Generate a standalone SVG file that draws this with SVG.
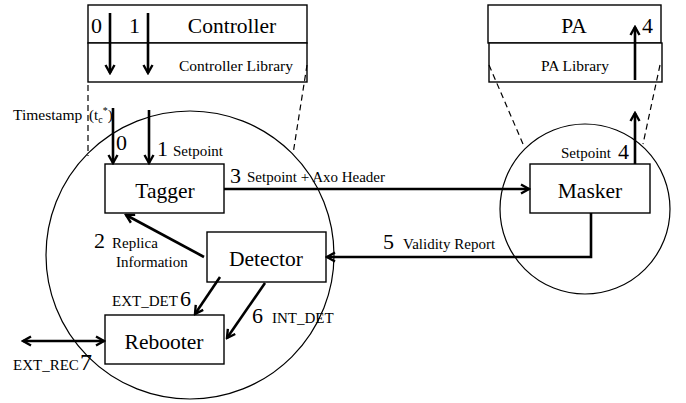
<svg xmlns="http://www.w3.org/2000/svg" width="686" height="403" viewBox="0 0 686 403" font-family="'Liberation Serif', serif">
<defs>
<marker id="ah" viewBox="0 0 12 12" markerWidth="12" markerHeight="12" refX="10" refY="6" orient="auto-start-reverse" markerUnits="userSpaceOnUse">
<path d="M2,1.5 L10,6 L2,10.5" fill="none" stroke="#000" stroke-width="2.4"/>
</marker>
</defs>
<style>
text{font-family:'Liberation Serif', serif;fill:#000}
.big{font-size:21.5px}
.num{font-size:22px}
.sm{font-size:15px}
.box{fill:#fff;stroke:#000;stroke-width:1.4}
.ring{fill:none;stroke:#000;stroke-width:1.2}
.dash{fill:none;stroke:#000;stroke-width:1.2;stroke-dasharray:6,4}
.arr{fill:none;stroke:#000;stroke-width:2.6;marker-end:url(#ah)}
</style>
<rect width="686" height="403" fill="#fff"/>
<circle class="ring" cx="190" cy="255" r="144"/>
<circle class="ring" cx="585" cy="209" r="85"/>
<g id="controller">
<rect class="box" x="88" y="5" width="219" height="38"/>
<rect class="box" x="88" y="43" width="219" height="39"/>
<text class="big" x="232" y="33" text-anchor="middle">Controller</text>
<text class="sm" x="236" y="71" text-anchor="middle" font-size="15.5" style="font-size:15.5px">Controller Library</text>
<text class="num" x="91" y="33">0</text>
<text class="num" x="129" y="33">1</text>
</g>
<g id="pa">
<rect class="box" x="488" y="5" width="173" height="38"/>
<rect class="box" x="489" y="43" width="173" height="39"/>
<text class="big" x="574" y="33" text-anchor="middle">PA</text>
<text class="sm" x="575" y="71" text-anchor="middle" style="font-size:15.5px">PA Library</text>
<text class="num" x="642" y="33">4</text>
</g>
<g id="tagger">
<rect class="box" x="105" y="164" width="119" height="49"/>
<text class="big" x="165" y="198" text-anchor="middle">Tagger</text>
</g>
<g id="masker">
<rect class="box" x="530" y="164" width="120" height="49"/>
<text class="big" x="590" y="198" text-anchor="middle">Masker</text>
</g>
<g id="detector">
<rect class="box" x="207" y="232" width="119" height="50"/>
<text class="big" x="266" y="266" text-anchor="middle">Detector</text>
</g>
<g id="rebooter">
<rect class="box" x="105" y="315" width="119" height="49"/>
<text class="big" x="164" y="349" text-anchor="middle">Rebooter</text>
</g>
<g id="connectors">
<line class="dash" x1="88" y1="85" x2="88" y2="156"/>
<line class="dash" x1="307" y1="65" x2="293" y2="154"/>
<line class="dash" x1="489" y1="65" x2="523" y2="144"/>
<line class="dash" x1="660" y1="65" x2="643" y2="144"/>
<line class="arr" x1="110" y1="13" x2="110" y2="73"/>
<line class="arr" x1="148" y1="13" x2="148" y2="73"/>
<line class="arr" x1="113" y1="108" x2="113" y2="163"/>
<line class="arr" x1="149" y1="110" x2="149" y2="163"/>
<line class="arr" x1="224" y1="189" x2="529" y2="189"/>
<line class="arr" x1="635" y1="80" x2="635" y2="27"/>
<line class="arr" x1="635" y1="164" x2="635" y2="113"/>
<path class="arr" d="M591,213 V257 H327"/>
<line class="arr" x1="204" y1="257" x2="126" y2="215"/>
<line class="arr" x1="220" y1="277" x2="195" y2="314"/>
<line class="arr" x1="265" y1="283" x2="227" y2="338"/>
<line class="arr" x1="23" y1="341" x2="104" y2="341" style="marker-start:url(#ah)"/>
</g>
<g id="labels">
<text class="sm" x="13" y="120" style="font-size:15.5px">Timestamp</text>
<text class="sm" x="89" y="120">(t<tspan font-size="10" dy="3">c</tspan><tspan font-size="10" dy="-9">*</tspan><tspan dy="6">)</tspan></text>
<text class="num" x="116" y="150">0</text>
<text class="num" x="157" y="156">1</text>
<text class="sm" x="173" y="156">Setpoint</text>
<text class="num" x="230" y="183">3</text>
<text class="sm" x="247" y="182">Setpoint + Axo Header</text>
<text class="num" x="94" y="248">2</text>
<text class="sm" x="112" y="248">Replica</text>
<text class="sm" x="116" y="267">Information</text>
<text class="num" x="383" y="249">5</text>
<text class="sm" x="403" y="249">Validity Report</text>
<text class="sm" x="561" y="158">Setpoint</text>
<text class="num" x="618" y="159">4</text>
<text class="sm" x="112" y="306">EXT_DET</text>
<text class="num" x="180" y="306">6</text>
<text class="num" x="252" y="323">6</text>
<text class="sm" x="272" y="323">INT_DET</text>
<text class="sm" x="13" y="370">EXT_REC</text>
<text class="num" x="80" y="370" style="font-size:24px">7</text>
</g>
</svg>
